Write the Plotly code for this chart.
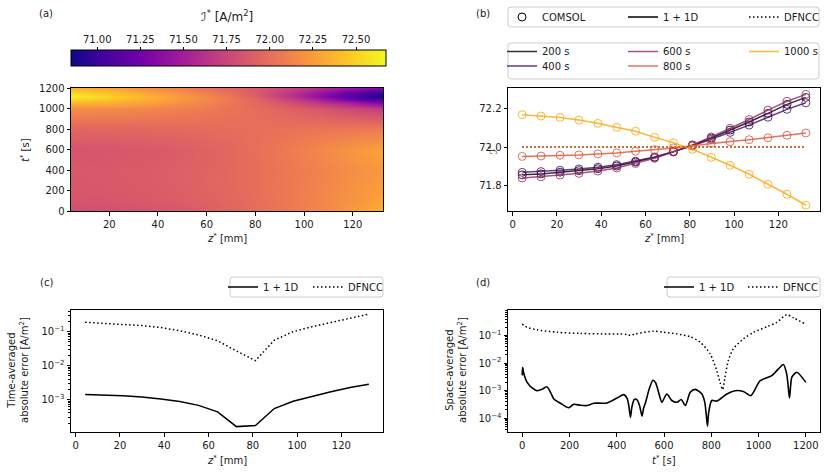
import plotly.graph_objects as go

W, H = 826, 475

# ---------------- data ----------------
Z_MM = [4.3, 12.8, 21.4, 29.9, 38.5, 47.0, 55.5, 64.1, 72.6, 81.2, 89.7, 98.2, 106.8, 115.3, 123.9, 132.4]

TIMES = [200, 400, 600, 800, 1000]
TIME_COLORS = ['#000004', '#420a68', '#932667', '#dd513a', '#fca50a']

I_200 = [71.855, 71.860, 71.869, 71.877, 71.887, 71.901, 71.922, 71.946, 71.976, 72.009, 72.047, 72.088, 72.130, 72.175, 72.222, 72.258]
I_400 = [71.868, 71.872, 71.879, 71.886, 71.895, 71.908, 71.926, 71.948, 71.976, 72.006, 72.040, 72.076, 72.114, 72.155, 72.196, 72.230]
I_600 = [71.839, 71.845, 71.854, 71.863, 71.875, 71.891, 71.914, 71.941, 71.974, 72.011, 72.052, 72.097, 72.143, 72.192, 72.238, 72.274]
I_800 = [71.951, 71.953, 71.957, 71.959, 71.964, 71.969, 71.978, 71.986, 71.995, 72.007, 72.019, 72.028, 72.038, 72.048, 72.061, 72.073]
I_1000 = [72.168, 72.161, 72.154, 72.140, 72.123, 72.102, 72.082, 72.050, 72.022, 71.988, 71.946, 71.905, 71.858, 71.806, 71.754, 71.697]
I_DFNCC = [72.0, 72.0, 72.0, 72.0, 72.0, 72.0, 72.0, 72.0, 72.0, 72.0, 72.0, 72.0, 72.0, 72.0, 72.0, 72.0]

# heat map of I*(z, t)
T_ROWS = [0, 100, 200, 300, 400, 500, 600, 700, 800, 900, 1000, 1050, 1100, 1125, 1150, 1200]
HEAT_I = [
    [71.80, 71.81, 71.82, 71.83, 71.845, 71.865, 71.89, 71.92, 71.955, 71.995, 72.04, 72.09, 72.14, 72.20, 72.27, 72.35],
    [71.84, 71.845, 71.855, 71.865, 71.875, 71.89, 71.91, 71.935, 71.965, 72.0, 72.04, 72.085, 72.13, 72.18, 72.23, 72.28],
    I_200,
    [71.865, 71.868, 71.876, 71.884, 71.893, 71.906, 71.925, 71.948, 71.977, 72.008, 72.043, 72.081, 72.121, 72.164, 72.208, 72.243],
    I_400,
    [71.85, 71.855, 71.864, 71.872, 71.883, 71.898, 71.919, 71.944, 71.975, 72.009, 72.047, 72.088, 72.130, 72.175, 72.218, 72.253],
    I_600,
    [71.895, 71.898, 71.905, 71.911, 71.92, 71.93, 71.946, 71.964, 71.985, 72.009, 72.036, 72.063, 72.091, 72.12, 72.15, 72.174],
    I_800,
    [72.06, 72.058, 72.055, 72.05, 72.044, 72.036, 72.03, 72.018, 72.008, 71.997, 71.982, 71.966, 71.948, 71.927, 71.907, 71.885],
    I_1000,
    [72.36, 72.34, 72.32, 72.29, 72.25, 72.20, 72.15, 72.09, 72.03, 71.96, 71.87, 71.77, 71.66, 71.56, 71.45, 71.35],
    [72.58, 72.53, 72.47, 72.40, 72.33, 72.26, 72.19, 72.11, 72.03, 71.92, 71.78, 71.62, 71.44, 71.26, 71.08, 70.95],
    [72.64, 72.56, 72.48, 72.41, 72.33, 72.25, 72.17, 72.09, 72.00, 71.87, 71.72, 71.56, 71.38, 71.20, 71.03, 70.88],
    [72.55, 72.48, 72.42, 72.35, 72.28, 72.21, 72.14, 72.06, 71.98, 71.87, 71.74, 71.59, 71.43, 71.27, 71.12, 70.98],
    [72.36, 72.32, 72.28, 72.23, 72.18, 72.12, 72.06, 72.00, 71.94, 71.87, 71.78, 71.68, 71.58, 71.48, 71.40, 71.32],
]
CB_MIN, CB_MAX = 70.848, 72.672
CB_TICKS = [71.00, 71.25, 71.50, 71.75, 72.00, 72.25, 72.50]

# (c) time-averaged absolute error vs z
ERR_Z_1P1D = [1.41e-3, 1.38e-3, 1.29e-3, 1.18e-3, 1.04e-3, 8.7e-4, 6.7e-4, 4.3e-4, 1.58e-4, 1.7e-4, 5.4e-4, 8.9e-4, 1.24e-3, 1.69e-3, 2.24e-3, 2.8e-3]
ERR_Z_DFNCC = [0.19, 0.178, 0.166, 0.151, 0.132, 0.107, 0.08, 0.054, 0.027, 0.014, 0.056, 0.10, 0.141, 0.186, 0.245, 0.33]

# (d) space-averaged absolute error vs t
T_1P1D = [0, 2, 6, 21, 42, 63, 84, 104, 120, 134, 162, 197, 218, 246, 275, 303, 359, 401, 430, 445, 452, 458,
          464, 474, 485, 497, 507, 514, 521, 537, 553, 565, 580, 591, 612, 633, 655, 673, 690, 711, 732, 760,
          772, 779, 784, 789, 802, 823, 866, 901, 936, 967, 1007, 1056, 1084, 1105, 1119, 1126, 1131, 1136,
          1141, 1162, 1200]
ERR_T_1P1D = [3.6e-3, 7.0e-3, 4.5e-3, 2.0e-3, 1.26e-3, 1.0e-3, 1.12e-3, 1.38e-3, 8.7e-4, 5.0e-4, 3.5e-4, 2.4e-4,
              3.2e-4, 2.95e-4, 2.9e-4, 3.5e-4, 3.6e-4, 5.4e-4, 7.2e-4, 5.0e-4, 2.5e-4, 1.07e-4, 2.5e-4, 4.7e-4,
              4.8e-4, 2.8e-4, 1.2e-4, 2.4e-4, 3.5e-4, 1.12e-3, 2.4e-3, 1.9e-3, 7.1e-4, 3.8e-4, 7.6e-4, 4.4e-4,
              3.8e-4, 4.8e-4, 2.9e-4, 8.7e-4, 1.12e-3, 7.6e-4, 4.0e-4, 1.26e-4, 5.2e-5, 1.6e-4, 4.4e-4, 4.2e-4,
              7.6e-4, 1.0e-3, 9.3e-4, 6.6e-4, 2.3e-3, 3.5e-3, 6.2e-3, 8.9e-3, 4.1e-3, 1.26e-3, 5.4e-4, 1.6e-3,
              3.1e-3, 4.7e-3, 2.0e-3]
T_DFNCC = [0, 21, 63, 148, 246, 359, 415, 443, 458, 478, 556, 598, 655, 711, 753, 795, 823, 837, 848, 858, 872,
           893, 936, 979, 1035, 1077, 1119, 1148, 1200]
ERR_T_DFNCC = [0.26, 0.20, 0.162, 0.132, 0.120, 0.115, 0.115, 0.11, 0.102, 0.115, 0.145, 0.132, 0.115, 0.091,
               0.058, 0.022, 5.4e-3, 2.0e-3, 1.1e-3, 3.1e-3, 0.0123, 0.033, 0.076, 0.132, 0.21, 0.30, 0.575,
               0.44, 0.26]

# ---------------- helpers ----------------
FONT = 'DejaVu Sans'
TXT = '#1a1a1a'


def fx(x):
    return x / W


def fy(y):
    return 1 - y / H


def axis(domain, **kw):
    d = dict(domain=domain, showline=True, linecolor='black', linewidth=1, mirror=True,
             ticks='outside', ticklen=3.5, tickwidth=0.8, tickcolor='black', showgrid=False,
             zeroline=False, tickfont=dict(family=FONT, size=10, color=TXT))
    d.update(kw)
    return d


def log_minor(lo_exp, hi_exp):
    vals = []
    for e in range(lo_exp, hi_exp + 1):
        for k in range(2, 10):
            vals.append(k * 10.0 ** e)
    return vals


def ann(text, x, y, size=10, angle=0):
    return dict(text=text, x=fx(x), y=fy(y), xref='paper', yref='paper', showarrow=False,
                xanchor='center', yanchor='middle', textangle=angle,
                font=dict(family=FONT, size=size, color=TXT))


def rrect(x0, y0, x1, y1, r=3):
    rx, ry = r / W, r / H
    X0, X1, Y0, Y1 = fx(x0), fx(x1), fy(y0), fy(y1)  # Y0 top, Y1 bottom
    path = (f"M {X0+rx},{Y0} L {X1-rx},{Y0} Q {X1},{Y0} {X1},{Y0-ry} "
            f"L {X1},{Y1+ry} Q {X1},{Y1} {X1-rx},{Y1} L {X0+rx},{Y1} Q {X0},{Y1} {X0},{Y1+ry} "
            f"L {X0},{Y0-ry} Q {X0},{Y0} {X0+rx},{Y0} Z")
    return dict(type='path', path=path, xref='paper', yref='paper',
                line=dict(color='#cccccc', width=1), fillcolor='rgba(255,255,255,0.8)', layer='above')


DOT = '1.5px,2.5px'

fig = go.Figure()

# ---------------- (a) heat map ----------------
fig.add_trace(go.Heatmap(
    x=Z_MM, y=T_ROWS, z=HEAT_I, colorscale='Plasma', zmin=CB_MIN, zmax=CB_MAX, zsmooth='best',
    xaxis='x', yaxis='y', hoverinfo='skip',
    colorbar=dict(orientation='h', x=fx(71), xanchor='left', y=fy(67), yanchor='bottom',
                  len=315, lenmode='pixels', thickness=16, thicknessmode='pixels',
                  xpad=0, ypad=0, outlinewidth=1, outlinecolor='black', ticks='',
                  showticklabels=False)))
# axis carrying colorbar tick labels on top
fig.add_trace(go.Scatter(x=[None], y=[None], xaxis='x5', yaxis='y5', showlegend=False, hoverinfo='skip'))

# ---------------- (b) profiles ----------------
I_SERIES = [I_200, I_400, I_600, I_800, I_1000]
for tval, col, ys in zip(TIMES, TIME_COLORS, I_SERIES):
    fig.add_trace(go.Scatter(x=Z_MM, y=ys, mode='lines', line=dict(color=col, width=1.5), opacity=0.8,
                             xaxis='x2', yaxis='y2', showlegend=False, hoverinfo='skip'))
    fig.add_trace(go.Scatter(x=Z_MM, y=ys, mode='markers', opacity=0.8,
                             marker=dict(symbol='circle-open', size=8, color=col, line=dict(width=1, color=col)),
                             xaxis='x2', yaxis='y2', showlegend=False, hoverinfo='skip'))
for tval, col in zip(TIMES, TIME_COLORS):
    fig.add_trace(go.Scatter(x=Z_MM, y=I_DFNCC, mode='lines', line=dict(color=col, width=1.5, dash=DOT),
                             opacity=0.8, xaxis='x2', yaxis='y2', showlegend=False, hoverinfo='skip'))

# legend entries (model type)
fig.add_trace(go.Scatter(x=[None], y=[None], mode='markers', name='COMSOL', legend='legend',
                         marker=dict(symbol='circle-open', size=8, color='black', line=dict(width=1)),
                         xaxis='x2', yaxis='y2'))
fig.add_trace(go.Scatter(x=[None], y=[None], mode='lines', name='1 + 1D', legend='legend',
                         line=dict(color='black', width=1.5), xaxis='x2', yaxis='y2'))
fig.add_trace(go.Scatter(x=[None], y=[None], mode='lines', name='DFNCC', legend='legend',
                         line=dict(color='black', width=1.5, dash=DOT), xaxis='x2', yaxis='y2'))
# legend entries (times), column-major layout in two rows
for idx, leg in [(0, 'legend2'), (2, 'legend2'), (4, 'legend2'), (1, 'legend3'), (3, 'legend3')]:
    fig.add_trace(go.Scatter(x=[None], y=[None], mode='lines', name=f'{TIMES[idx]} s', legend=leg,
                             line=dict(color=TIME_COLORS[idx], width=1.5), opacity=0.8,
                             xaxis='x2', yaxis='y2'))

# ---------------- (c) ----------------
fig.add_trace(go.Scatter(x=Z_MM, y=ERR_Z_1P1D, mode='lines', name='1 + 1D', legend='legend4',
                         line=dict(color='black', width=1.5), xaxis='x3', yaxis='y3'))
fig.add_trace(go.Scatter(x=Z_MM, y=ERR_Z_DFNCC, mode='lines', name='DFNCC', legend='legend4',
                         line=dict(color='black', width=1.5, dash=DOT), xaxis='x3', yaxis='y3'))

# ---------------- (d) ----------------
fig.add_trace(go.Scatter(x=T_1P1D, y=ERR_T_1P1D, mode='lines', name='1 + 1D', legend='legend5',
                         line=dict(color='black', width=1.6, shape='spline', smoothing=0.7),
                         xaxis='x4', yaxis='y4'))
fig.add_trace(go.Scatter(x=T_DFNCC, y=ERR_T_DFNCC, mode='lines', name='DFNCC', legend='legend5',
                         line=dict(color='black', width=1.5, dash=DOT, shape='spline', smoothing=0.7),
                         xaxis='x4', yaxis='y4'))

# ---------------- layout ----------------
top_dom = [fy(211), fy(88)]
bot_dom = [fy(432), fy(310)]
left_dom = [fx(71), fx(383)]
right_dom = [fx(508), fx(820)]

leg_common = dict(orientation='h', bgcolor='rgba(0,0,0,0)', borderwidth=0, xanchor='left',
                  yanchor='middle', font=dict(family=FONT, size=10, color=TXT), traceorder='normal')

fig.update_layout(
    width=W, height=H, margin=dict(l=0, r=0, t=0, b=0, autoexpand=False),
    paper_bgcolor='white', plot_bgcolor='white',
    xaxis=axis(left_dom, anchor='y', range=[4.3, 132.4], tickvals=[20, 40, 60, 80, 100, 120]),
    yaxis=axis(top_dom, anchor='x', range=[0, 1200], tickvals=[0, 200, 400, 600, 800, 1000, 1200]),
    xaxis2=axis(right_dom, anchor='y2', range=[-2.1, 138.8], tickvals=[0, 20, 40, 60, 80, 100, 120]),
    yaxis2=axis(top_dom, anchor='x2', range=[71.667, 72.307], tickvals=[71.8, 72.0, 72.2],
                ticktext=['71.8', '72.0', '72.2']),
    xaxis3=axis(left_dom, anchor='y3', range=[-2.1, 138.8], tickvals=[0, 20, 40, 60, 80, 100, 120]),
    yaxis3=axis(bot_dom, anchor='x3', type='log', range=[-3.96, -0.36],
                tickvals=[1e-3, 1e-2, 1e-1], ticktext=['10<sup>−3</sup>', '10<sup>−2</sup>', '10<sup>−1</sup>'],
                minor=dict(tickmode='array', tickvals=log_minor(-4, -1), ticks='outside', ticklen=2,
                           tickcolor='black', tickwidth=0.6, showgrid=False)),
    xaxis4=axis(right_dom, anchor='y4', range=[-60, 1260], tickvals=[0, 200, 400, 600, 800, 1000, 1200]),
    yaxis4=axis(bot_dom, anchor='x4', type='log', range=[-4.5, -0.07],
                tickvals=[1e-4, 1e-3, 1e-2, 1e-1],
                ticktext=['10<sup>−4</sup>', '10<sup>−3</sup>', '10<sup>−2</sup>', '10<sup>−1</sup>'],
                minor=dict(tickmode='array', tickvals=log_minor(-5, -1), ticks='outside', ticklen=2,
                           tickcolor='black', tickwidth=0.6, showgrid=False)),
    xaxis5=dict(domain=[fx(71), fx(385.7)], anchor='y5', side='top', range=[CB_MIN, CB_MAX],
                tickvals=CB_TICKS, ticktext=[f'{v:.2f}' for v in CB_TICKS], ticks='outside', ticklen=3.5,
                tickwidth=0.8, tickcolor='black', showline=False, showgrid=False, zeroline=False,
                tickfont=dict(family=FONT, size=10, color=TXT)),
    yaxis5=dict(domain=[fy(67), fy(51)], anchor='x5', range=[0, 1], visible=False),
    legend=dict(leg_common, x=fx(502), y=fy(17), entrywidth=76),
    legend2=dict(leg_common, x=fx(502), y=fy(51.5), entrywidth=76),
    legend3=dict(leg_common, x=fx(502), y=fy(66), entrywidth=76),
    legend4=dict(leg_common, x=fx(223), y=fy(287), entrywidth=40),
    legend5=dict(leg_common, x=fx(659), y=fy(287), entrywidth=39),
    shapes=[rrect(508, 7, 819, 27), rrect(508, 43, 819, 79), rrect(230, 277, 383, 297),
            rrect(667, 277, 820, 297)],
    annotations=[
        ann('(a)', 46, 13), ann('(b)', 483, 13), ann('(c)', 46, 282), ann('(d)', 483, 282),
        ann('ℐ<sup>*</sup> [A/m<sup>2</sup>]', 227, 16, size=12),
        ann('<i>z</i><sup>*</sup> [mm]', 227, 238),
        ann('<i>t</i><sup>*</sup> [s]', 25, 150, angle=-90),
        ann('<i>z</i><sup>*</sup> [mm]', 664, 238),
        ann('ℐ<sup>*</sup>', 493, 150, angle=-90),
        ann('<i>z</i><sup>*</sup> [mm]', 227, 460),
        ann('Time-averaged<br>absolute error [A/m<sup>2</sup>]', 18, 370, angle=-90),
        ann('<i>t</i><sup>*</sup> [s]', 664, 460),
        ann('Space-averaged<br>absolute error [A/m<sup>2</sup>]', 456, 370, angle=-90),
    ],
)

fig.write_html('out.html')
